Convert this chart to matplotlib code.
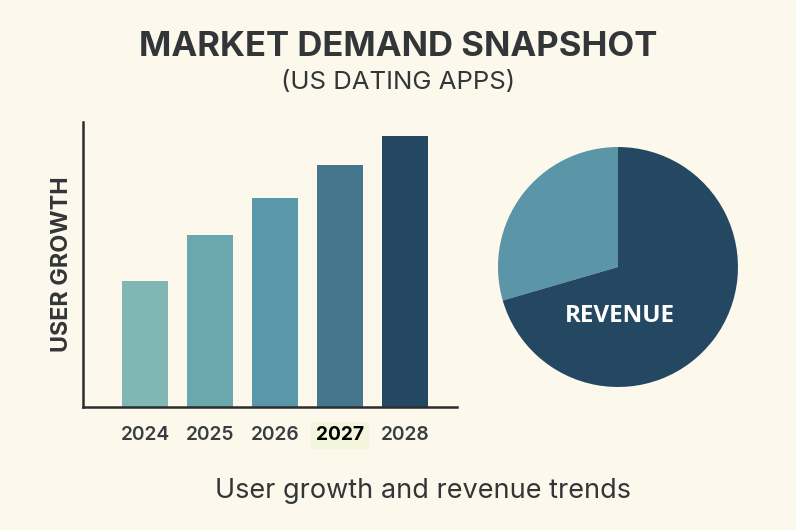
import matplotlib.pyplot as plt

years = ['2024', '2025', '2026', '2027', '2028']
user_growth = [126, 172, 209, 242, 271]
bar_colors = ['#80B7B5', '#6AA8AD', '#5A97A8', '#45768E', '#254862']

pie_labels = ['Other', 'Revenue']
pie_shares = [29.5, 70.5]
pie_colors = ['#5B96A8', '#254862']

bg = '#FCF8EC'
ink = '#333638'

plt.rcParams['font.family'] = ['Inter', 'DejaVu Sans']

fig = plt.figure(figsize=(7.96, 5.30), dpi=100)
fig.patch.set_facecolor(bg)

fig.text(0.5, 0.912, 'MARKET DEMAND SNAPSHOT', ha='center', va='center',
         fontsize=25, fontweight='bold', color=ink)
fig.text(0.5, 0.845, '(US DATING APPS)', ha='center', va='center',
         fontsize=18.5, color=ink)
fig.text(0.532, 0.073, 'User growth and revenue trends', ha='center', va='center',
         fontsize=19.5, color=ink)

# bar chart
ax = fig.add_axes([0.1043, 0.232, 0.4698, 0.538])
ax.set_facecolor(bg)
x = list(range(len(years)))
ax.bar(x, user_growth, width=0.7, color=bar_colors)
ax.set_xlim(-0.954, 4.8)
ax.set_ylim(0, 285)
ax.set_yticks([])
ax.set_xticks(x)
ax.set_xticklabels(years, fontsize=13.8, fontweight='semibold', color='#3a3d40')
ax.tick_params(axis='x', length=0, pad=14)
for s in ['top', 'right']:
    ax.spines[s].set_visible(False)
for s in ['left', 'bottom']:
    ax.spines[s].set_linewidth(1.8)
    ax.spines[s].set_color('#2b2e30')
ax.set_ylabel('USER GROWTH', fontsize=16.8, fontweight='bold', color=ink, labelpad=7)

# highlight on 2027 label
hl = ax.get_xticklabels()[3]
hl.set_color('black')
hl.set_fontweight('bold')
hl.set_bbox(dict(boxstyle='square,pad=0.25', facecolor='#F3F6DC', edgecolor='none'))

# pie chart
pax = fig.add_axes([0.6256, 0.2698, 0.3015, 0.4528])
pax.pie(pie_shares, colors=pie_colors, startangle=90, counterclock=True,
        wedgeprops=dict(linewidth=0))
pax.set_xlim(-1, 1)
pax.set_ylim(-1, 1)
pax.set_aspect('equal')
pax.text(0.02, -0.41, 'REVENUE', ha='center', va='center', fontsize=17.5,
         fontweight='bold', color='white', family=['Open Sans', 'DejaVu Sans'])

fig.savefig('out.png', dpi=100, facecolor=bg)
